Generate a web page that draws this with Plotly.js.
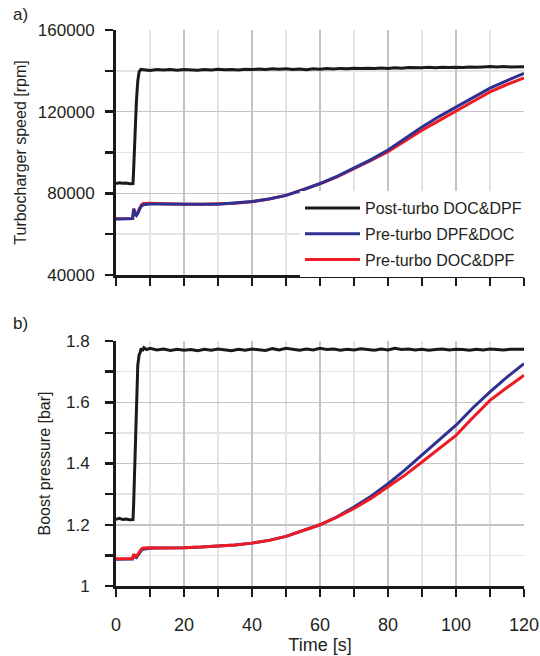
<!DOCTYPE html>
<html>
<head>
<meta charset="utf-8">
<script src="https://cdn.plot.ly/plotly-3.0.1.min.js"></script>
<style>html,body{margin:0;padding:0;background:#fff;}#chart{width:540px;height:656px;}</style>
</head>
<body>
<div id="chart"></div>
<script>
// ---- Data ----
var seriesNames = ["Post-turbo DOC&DPF", "Pre-turbo DPF&DOC", "Pre-turbo DOC&DPF"];

// Top panel: turbocharger speed [rpm]
var tPostSpeed = [0,1,2,3,4,5,5.2,5.6,6,6.4,6.8,7.3,8,10,12,14,16,18,20,22,24,26,28,30,32,34,36,38,40,42,44,46,48,50,52,54,56,58,60,62,64,66,68,70,72,74,76,78,80,82,84,86,88,90,92,94,96,98,100,102,104,106,108,110,112,114,116,118,120];
var postSpeed = [84800,85200,84900,85000,84700,84800,92000,110000,125000,135000,139500,140700,140600,140200,140700,140400,140600,140300,140700,140500,140300,140600,140400,140800,140500,140700,140400,140800,140600,140900,140700,141000,140800,141000,140700,140900,140500,141000,140800,141100,140900,141200,141000,141300,141100,141300,141100,141400,141200,141500,141300,141600,141400,141500,141700,141500,141800,141600,141800,141600,141900,141700,141900,142100,141900,142100,141900,142100,142000];

var tPre = [0,2,4,4.9,5.2,5.6,6,6.5,7,7.5,8,9,10,12,15,20,25,30,35,40,45,50,55,60,65,70,75,80,85,90,95,100,105,110,115,120];
var preDpfDocSpeed = [67400,67500,67500,67600,72500,70000,69200,70500,72500,73800,74400,74700,74800,74800,74700,74600,74600,74700,75200,76000,77200,79000,81700,84800,88300,92300,96500,101200,106800,112500,117600,122300,127200,131500,135200,138800];
var preDocDpfSpeed = [67500,67600,67600,67700,72300,70200,69600,71200,73200,74400,75000,75200,75100,75000,74800,74600,74600,74700,75100,75900,77200,79000,81800,84700,88100,92000,96100,100400,105600,110900,115600,120100,125000,129700,133300,136500];

// Bottom panel: boost pressure [bar]
var tPostBoost = [0,1,2,3,4,5,5.2,5.6,6,6.4,6.8,7.1,7.4,7.8,8.2,9,10,12,14,16,18,20,22,24,26,28,30,32,34,36,38,40,42,44,46,48,50,52,54,56,58,60,62,64,66,68,70,72,74,76,78,80,82,84,86,88,90,92,94,96,98,100,102,104,106,108,110,112,114,116,118,120];
var postBoost = [1.218,1.221,1.217,1.219,1.216,1.217,1.27,1.45,1.62,1.72,1.755,1.762,1.776,1.768,1.778,1.772,1.776,1.771,1.774,1.769,1.773,1.770,1.772,1.768,1.773,1.770,1.774,1.771,1.768,1.773,1.770,1.774,1.772,1.769,1.775,1.771,1.776,1.773,1.770,1.774,1.771,1.776,1.772,1.774,1.770,1.773,1.771,1.775,1.772,1.770,1.774,1.771,1.776,1.772,1.774,1.771,1.773,1.770,1.772,1.774,1.771,1.773,1.772,1.770,1.773,1.771,1.774,1.772,1.771,1.773,1.772,1.773];

var preDpfDocBoost = [1.087,1.087,1.087,1.088,1.103,1.095,1.093,1.100,1.110,1.117,1.120,1.122,1.123,1.124,1.124,1.125,1.127,1.130,1.134,1.140,1.149,1.162,1.180,1.200,1.226,1.258,1.293,1.334,1.379,1.427,1.476,1.525,1.582,1.634,1.682,1.726];
var preDocDpfBoost = [1.089,1.089,1.089,1.090,1.104,1.097,1.096,1.104,1.115,1.121,1.124,1.125,1.125,1.124,1.124,1.125,1.127,1.130,1.134,1.140,1.149,1.162,1.180,1.200,1.225,1.253,1.286,1.323,1.362,1.405,1.449,1.492,1.550,1.606,1.648,1.688];

var xTickVals = [0,20,40,60,80,100,120];

// ---- Styles ----
var cBlack = "#1a1a1a", cBlue = "#2e3192", cRed = "#ed1c24";
var lw = 3;
var fontFam = "Liberation Sans, Arial, sans-serif";
var txt = "#231f20";

var traces = [
  {x:tPostSpeed, y:postSpeed, name:seriesNames[0], mode:"lines", line:{color:cBlack,width:lw}, xaxis:"x", yaxis:"y", legendrank:1, legendgroup:"g1"},
  {x:tPre, y:preDocDpfSpeed, name:seriesNames[2], mode:"lines", line:{color:cRed,width:lw}, xaxis:"x", yaxis:"y", legendrank:3, legendgroup:"g3"},
  {x:tPre, y:preDpfDocSpeed, name:seriesNames[1], mode:"lines", line:{color:cBlue,width:lw}, xaxis:"x", yaxis:"y", legendrank:2, legendgroup:"g2"},
  {x:tPostBoost, y:postBoost, name:seriesNames[0], mode:"lines", line:{color:cBlack,width:lw}, xaxis:"x2", yaxis:"y2", showlegend:false},
  {x:tPre, y:preDpfDocBoost, name:seriesNames[1], mode:"lines", line:{color:cBlue,width:lw}, xaxis:"x2", yaxis:"y2", showlegend:false},
  {x:tPre, y:preDocDpfBoost, name:seriesNames[2], mode:"lines", line:{color:cRed,width:lw}, xaxis:"x2", yaxis:"y2", showlegend:false}
];

function xax(showLabels, anchor) {
  return {
    domain:[116/540, 524/540], range:[0,120], anchor:anchor,
    tickmode:"array", tickvals:xTickVals, showticklabels:showLabels,
    ticks:"outside", ticklen:8, tickwidth:2.5, tickcolor:cBlack,
    ticklabelstandoff:12,
    showline:true, linewidth:3, linecolor:cBlack,
    showgrid:true, gridcolor:"#c4c4c8", gridwidth:1.5, zeroline:false,
    minor:{dtick:10, tick0:0, ticks:"outside", ticklen:8, tickwidth:2.5, tickcolor:cBlack, showgrid:true, gridcolor:"#e4e4e6", gridwidth:1.5},
    tickfont:{family:fontFam, size:18, color:txt}
  };
}
function yax(range, dtick, minorDtick, domain, anchor, title, fmt, labelStandoff, titleStandoff) {
  var a = {
    domain:domain, range:range, anchor:anchor, dtick:dtick, tick0:range[0],
    ticks:"outside", ticklen:8, tickwidth:2.5, tickcolor:cBlack,
    ticklabelstandoff:labelStandoff,
    showline:true, linewidth:3, linecolor:cBlack,
    showgrid:true, gridcolor:"#c4c4c8", gridwidth:1.5, zeroline:false,
    minor:{dtick:minorDtick, ticks:"outside", ticklen:8, tickwidth:2.5, tickcolor:cBlack, showgrid:true, gridcolor:"#e4e4e6", gridwidth:1.5},
    tickfont:{family:fontFam, size:17, color:txt},
    title:{text:title, font:{family:fontFam, size:16, color:txt}, standoff:titleStandoff}
  };
  if (fmt) a.tickformat = fmt;
  return a;
}

var layout = {
  width:540, height:656,
  margin:{l:0, r:0, t:0, b:0},
  paper_bgcolor:"#fff", plot_bgcolor:"#fff",
  font:{family:fontFam, size:16, color:txt},
  xaxis: xax(false, "y"),
  yaxis: yax([40000,160000], 40000, 20000, [1-275/656, 1-30/656], "x", "Turbocharger speed [rpm]", "d", 7, 8),
  xaxis2: (function(){var a = xax(true, "y2"); a.title = {text:"Time [s]", font:{family:fontFam, size:18, color:txt}, standoff:0}; return a;})(),
  yaxis2: yax([1,1.8], 0.2, 0.1, [1-586/656, 1-341/656], "x2", "Boost pressure [bar]", null, 12, 12),
  legend:{x:300/540, xanchor:"left", y:1-191/656, yanchor:"top", bgcolor:"#fff", borderwidth:0,
          font:{family:fontFam, size:16, color:txt}, traceorder:"grouped", tracegroupgap:2, itemwidth:55},
  showlegend:true,
  annotations:[
    {text:"a)", xref:"paper", yref:"paper", x:11/540, y:1-15/656, xanchor:"left", yanchor:"middle", showarrow:false, font:{family:fontFam, size:17, color:txt}},
    {text:"b)", xref:"paper", yref:"paper", x:11/540, y:1-323/656, xanchor:"left", yanchor:"middle", showarrow:false, font:{family:fontFam, size:17, color:txt}}
  ]
};

Plotly.newPlot("chart", traces, layout, {displayModeBar:false, staticPlot:true});
</script>
</body>
</html>
